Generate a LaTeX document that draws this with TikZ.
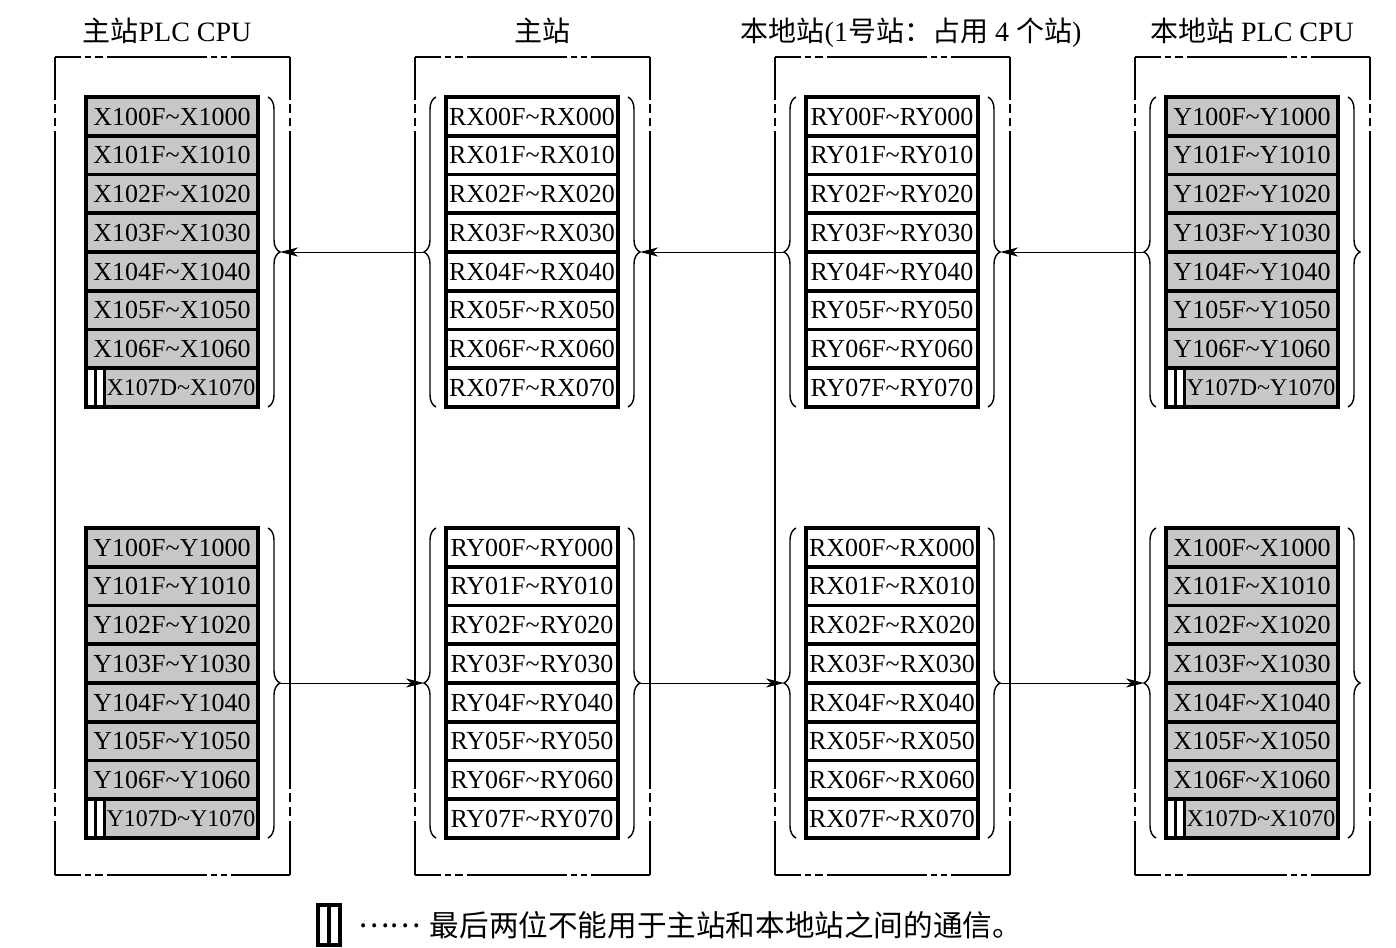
\documentclass[tikz,border=0pt]{standalone}
\usepackage{fontspec}
\setmainfont{Liberation Serif}
\newfontfamily\cjk{Noto Sans CJK SC}
\usetikzlibrary{arrows.meta,calc,positioning}
\usetikzlibrary{decorations.pathreplacing}

\tikzset{
  cell/.style={draw,line width=1.8pt,outer sep=0pt,inner sep=0pt,
    minimum width=86pt,minimum height=19.375pt,
    text height=8.8pt,text depth=0pt,font=\fontsize{13}{15}\selectfont},
  plc cell/.style={cell,fill=black!22},
  link cell/.style={cell,fill=white},
  cell text/.style={inner sep=0pt,text height=8.2pt,text depth=0pt,
    font=\fontsize{12}{14}\selectfont},
  mark bar/.style={line width=1.6pt},
  stack brace/.style={decorate,decoration={brace,amplitude=6pt},line width=0.7pt},
  flow/.style={-{Stealth[length=9pt,width=4.5pt,inset=2.5pt]},line width=0.5pt},
  hbreak/.style={line width=0.8pt,dash pattern=on 13pt off 2pt on 3pt off 2pt
    on 4pt off 2pt on 50pt off 2pt on 3pt off 2pt on 3pt off 2pt on 60pt},
  vbreak/.style={line width=0.8pt,dash pattern=on 21.5pt off 2pt on 4.5pt off 2.5pt
    on 4pt off 2.5pt on 329pt off 2pt on 4.5pt off 2.5pt on 4.5pt off 2.5pt on 60pt},
  title/.style={anchor=base,inner sep=0pt,font=\fontsize{14}{16}\selectfont},
  keybox/.style={draw,line width=1.6pt,fill=white,inner sep=0pt,outer sep=0pt,
    minimum width=11pt,minimum height=20pt,
    path picture={\draw[mark bar] (path picture bounding box.north)
      -- (path picture bounding box.south);}}
}

% PLC register stack: name, left, top, letter
\newcommand\plcstack[4]{%
  \foreach \i in {0,...,6}
    \node[plc cell] (#1-\i) at (#2+86,#3+38.75*\i+19.375) {#410\i F\textasciitilde#410\i0};
  \node[plc cell] (#1-7) at (#2+86,#3+290.625) {};
  \fill[white] ([xshift=0.9pt,yshift=-0.9pt]#1-7.north west)
    rectangle ([xshift=9.25pt,yshift=0.9pt]#1-7.south west);
  \draw[mark bar] ([xshift=4.75pt]#1-7.north west) -- ([xshift=4.75pt]#1-7.south west);
  \draw[mark bar] ([xshift=9.25pt]#1-7.north west) -- ([xshift=9.25pt]#1-7.south west);
  \node[cell text] (#1-7t) at ([xshift=4.5pt]#1-7.center) {#4107D\textasciitilde#41070};
}
% link register stack: name, left, top, prefix
\newcommand\linkstack[4]{%
  \foreach \i in {0,...,7}
    \node[link cell] (#1-\i) at (#2+86,#3+38.75*\i+19.375) {#40\i F\textasciitilde#40\i0};
}
\newcommand\leftbrace[1]{%
  \draw[stack brace] ([xshift=-5pt]#1-7.south west) -- ([xshift=-5pt]#1-0.north west);
  \coordinate (#1-l) at ([xshift=-11pt]#1-3.south west);
}
\newcommand\rightbrace[1]{%
  \draw[stack brace] ([xshift=5pt]#1-0.north east) -- ([xshift=5pt]#1-7.south east);
  \coordinate (#1-r) at ([xshift=11pt]#1-3.south east);
}

\begin{document}
\begin{tikzpicture}[x=0.5pt,y=-0.5pt]
\useasboundingbox (0,0) rectangle (1396,947);

% frames
\foreach \fx in {55,415,775,1135} {
  \draw[hbreak] (\fx,57) -- ++(235,0);
  \draw[hbreak] (\fx,875) -- ++(235,0);
  \draw[vbreak] (\fx,57) -- ++(0,818);
  \draw[vbreak] (\fx+235,57) -- ++(0,818);
}

% titles
\node[title] (t1) at (167,42) {{\cjk 主站}PLC CPU};
\node[title] (t2) at (542,42) {{\cjk 主站}};
\node[title] (t3) at (911,42) {{\cjk 本地站}(1{\cjk 号站：占用} 4 {\cjk 个站})};
\node[title] (t4) at (1252,42) {{\cjk 本地站} PLC CPU};

% register stacks
\plcstack{s1t}{86}{97}{X}
\plcstack{s1b}{86}{528}{Y}
\linkstack{s2t}{446}{97}{RX}
\linkstack{s2b}{446}{528}{RY}
\linkstack{s3t}{806}{97}{RY}
\linkstack{s3b}{806}{528}{RX}
\plcstack{s4t}{1166}{97}{Y}
\plcstack{s4b}{1166}{528}{X}

% braces
\rightbrace{s1t} \rightbrace{s1b}
\foreach \s in {s2t,s2b,s3t,s3b,s4t,s4b} {
  \leftbrace{\s} \rightbrace{\s}
}

% data flow
\draw[flow] (s2t-l) -- (s1t-r);
\draw[flow] (s3t-l) -- (s2t-r);
\draw[flow] (s4t-l) -- (s3t-r);
\draw[flow] (s1b-r) -- (s2b-l);
\draw[flow] (s2b-r) -- (s3b-l);
\draw[flow] (s3b-r) -- (s4b-l);

% key
\node[keybox] (key) at (329,925) {};
\node[right=9pt of key,inner sep=0pt,font=\cjk\fontsize{14.8}{17}\selectfont] (keytext)
  {\raisebox{0.3em}{……}\hspace{0.3em}最后两位不能用于主站和本地站之间的通信。};
\end{tikzpicture}
\end{document}
